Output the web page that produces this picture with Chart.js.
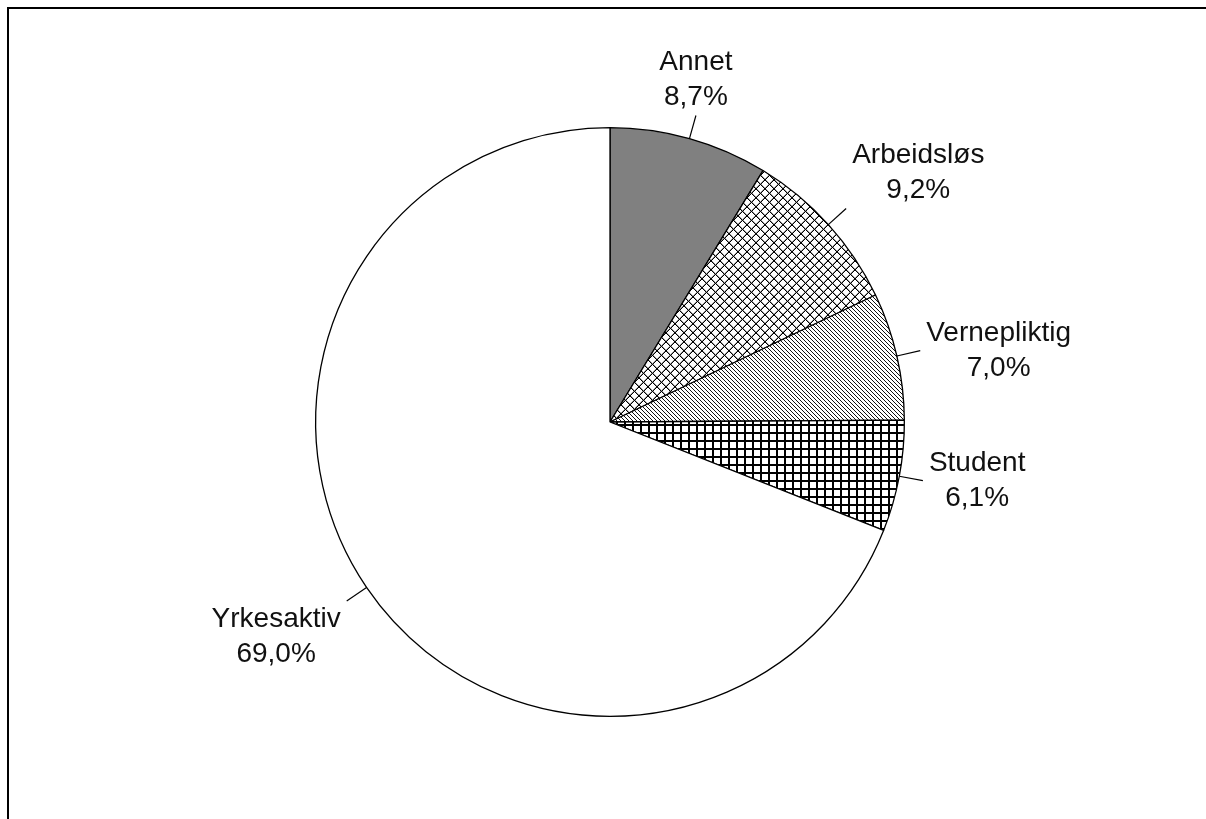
<!DOCTYPE html>
<html>
<head>
<meta charset="utf-8">
<title>Fordeling</title>
<script src="https://cdn.jsdelivr.net/npm/chart.js@4/dist/chart.umd.min.js"></script>
<style>
    html, body { margin: 0; padding: 0; background: #fff; }
    #wrap { width: 1206px; height: 819px; }
</style>
</head>
<body>
<div id="wrap"><canvas id="pieChart" width="1206" height="819"></canvas></div>
<script>
// Data
const categories = ['Annet', 'Arbeidsløs', 'Vernepliktig', 'Student', 'Yrkesaktiv'];
const shares = [8.7, 9.2, 7.0, 6.1, 69.0];

/**
 * Build a small repeating fill pattern (hatching like the old office charts)
 */
function makePattern(size, paint) {
    const c = document.createElement('canvas');
    c.width = size;
    c.height = size;
    const g = c.getContext('2d');
    g.fillStyle = '#fff';
    g.fillRect(0, 0, size, size);
    paint(g, size);
    return document.getElementById('pieChart').getContext('2d').createPattern(c, 'repeat');
}

// Diagonal crosshatch (diamonds)
const crossDiag = makePattern(9, (g, s) => {
    for (let i = 0; i < s; i++) {
        g.fillStyle = '#999';
        g.fillRect((i + 1) % s, i, 1, 1);
        g.fillRect((2 * s - 2 - i) % s, i, 1, 1);
        g.fillStyle = '#000';
        g.fillRect(i, i, 1, 1);
        g.fillRect(s - 1 - i, i, 1, 1);
    }
});

// Thin lines falling to the right
const diagLines = makePattern(4, (g, s) => {
    g.fillStyle = '#111';
    for (let i = 0; i < s; i++) {
        g.fillRect(i, i, 1, 1);
    }
});

// Square grid
const grid = makePattern(8, (g, s) => {
    g.fillStyle = '#000';
    g.fillRect(0, 0, s, 2);
    g.fillRect(0, 0, 2, s);
});

const sliceFills = ['#808080', crossDiag, diagLines, grid, '#ffffff'];

function formatShare(v) {
    return v.toFixed(1).replace('.', ',') + '%';
}

// Outer frame (only top and left edge show in the original)
const framePlugin = {
    id: 'frame',
    beforeDraw(chart) {
        const ctx = chart.ctx;
        ctx.save();
        ctx.fillStyle = '#fff';
        ctx.fillRect(0, 0, chart.width, chart.height);
        ctx.fillStyle = '#000';
        ctx.fillRect(7, 7, chart.width - 7, 2);
        ctx.fillRect(7, 7, 2, chart.height - 7);
        ctx.restore();
    }
};

// Labels outside the pie with a short leader line
const outsideLabels = {
    id: 'outsideLabels',
    afterDatasetsDraw(chart) {
        const ctx = chart.ctx;
        const meta = chart.getDatasetMeta(0);
        const lineH = 35;
        ctx.save();
        ctx.font = '28px "Liberation Sans", Arial, sans-serif';
        ctx.textAlign = 'center';
        ctx.textBaseline = 'middle';
        meta.data.forEach((arc, i) => {
            const p = arc.getProps(['x', 'y', 'startAngle', 'endAngle', 'outerRadius'], true);
            const mid = (p.startAngle + p.endAngle) / 2;
            const dx = Math.cos(mid);
            const dy = Math.sin(mid);
            const r1 = p.outerRadius;
            const r2 = p.outerRadius + 24;
            const ex = p.x + dx * r2;
            const ey = p.y + dy * r2;

            ctx.strokeStyle = '#000';
            ctx.lineWidth = 1.2;
            ctx.beginPath();
            ctx.moveTo(p.x + dx * r1, p.y + dy * r1);
            ctx.lineTo(ex, ey);
            ctx.stroke();

            const lines = [categories[i], formatShare(shares[i])];
            const w = Math.max(...lines.map(t => ctx.measureText(t).width));
            // side of the leader end the text block sits on
            const offX = Math.abs(dx) > 0.4 ? Math.sign(dx) * (w / 2 + 6) : 0;
            const offY = Math.abs(dy) > 0.5 ? Math.sign(dy) * 36 : 0;
            const cx = ex + offX;
            const cy = ey + offY;

            ctx.fillStyle = '#111';
            ctx.fillText(lines[0], cx, cy - lineH / 2);
            ctx.fillText(lines[1], cx, cy + lineH / 2);
        });
        ctx.restore();
    }
};

new Chart(document.getElementById('pieChart'), {
    type: 'pie',
    data: {
        labels: categories,
        datasets: [{
            data: shares,
            backgroundColor: sliceFills,
            borderColor: '#000',
            borderWidth: 1.3
        }]
    },
    options: {
        responsive: false,
        animation: false,
        layout: {
            padding: { left: 315, right: 301, top: 127, bottom: 102 }
        },
        plugins: {
            legend: { display: false },
            tooltip: { enabled: false }
        }
    },
    plugins: [framePlugin, outsideLabels]
});
</script>
</body>
</html>
